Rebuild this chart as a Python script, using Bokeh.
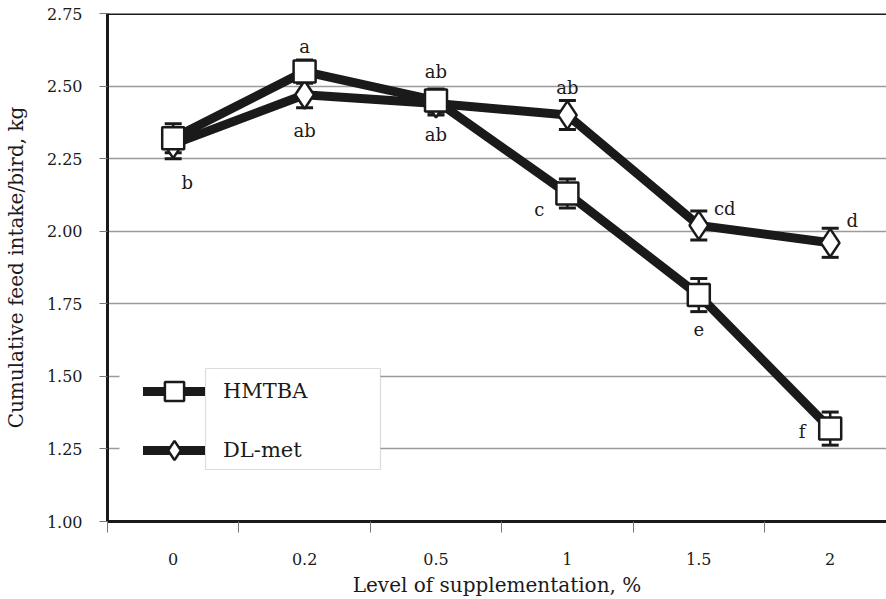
from bokeh.plotting import figure
from bokeh.models import (Range1d, FixedTicker, Span, Legend, LegendItem,
                          BoxAnnotation, ColumnDataSource, NumeralTickFormatter)
from bokeh.core.properties import value
from bokeh.embed import file_html
from bokeh.resources import INLINE

# ---------------- data ----------------
levels = ["0", "0.2", "0.5", "1", "1.5", "2"]
hmtba = [2.32, 2.55, 2.45, 2.13, 1.78, 1.32]
hmtba_err = [0.05, 0.04, 0.04, 0.05, 0.057, 0.057]
dlmet = [2.30, 2.47, 2.44, 2.40, 2.02, 1.96]
dlmet_err = [0.05, 0.045, 0.04, 0.05, 0.05, 0.05]
y_ticks = [1.00, 1.25, 1.50, 1.75, 2.00, 2.25, 2.50, 2.75]

# significance letters: (series, index, letter)
sig_series = ["dl", "h", "dl", "h", "dl", "dl", "h", "dl", "dl", "h", "h"]
sig_index = [0, 1, 1, 2, 2, 3, 3, 4, 5, 4, 5]
sig_letter = ["b", "a", "ab", "ab", "ab", "ab", "c", "cd", "d", "e", "f"]
# screen offsets (style) for each letter
sig_dx = [14, 0, 0, 0, 0, 0, -28, 26, 22, 0, -28]
sig_dy = [38, -25, 36, -29, 31, -28, 16, -17, -22, 34, 3]

FONT = "DejaVu Serif"
INK = "#1a1a1a"

W, H = 886, 599
LEFT, TOP, BOTTOM = 107, 13, 78
CAT_W = 131.4  # px per category (the reference frame runs past the right edge)

xs = list(range(len(levels)))
x_end = -0.5 + (W - LEFT) / CAT_W

p = figure(width=W, height=H, output_backend="svg", toolbar_location=None, title=None,
           x_range=Range1d(-0.5, x_end), y_range=Range1d(y_ticks[0], y_ticks[-1]),
           min_border_left=LEFT, min_border_top=TOP, min_border_bottom=BOTTOM,
           min_border_right=0, outline_line_color=None,
           background_fill_color="white", border_fill_color="white")

# axes
p.xaxis.ticker = FixedTicker(ticks=xs, minor_ticks=[i - 0.5 for i in range(len(levels) + 1)])
p.xaxis.major_label_overrides = {i: l for i, l in enumerate(levels)}
p.xaxis.major_tick_out = 0
p.xaxis.major_tick_in = 0
p.xaxis.minor_tick_out = 11
p.xaxis.minor_tick_in = 0
p.xaxis.minor_tick_line_color = "#777777"
p.xaxis.minor_tick_line_width = 1
p.xaxis.major_label_standoff = 20
p.xaxis.axis_label = "Level of supplementation, %"
p.xaxis.axis_label_standoff = 5

p.yaxis.ticker = FixedTicker(ticks=y_ticks, minor_ticks=[])
p.yaxis.formatter = NumeralTickFormatter(format="0.00")
p.yaxis.major_tick_out = 8
p.yaxis.major_tick_in = 0
p.yaxis.major_tick_line_color = "#777777"
p.yaxis.major_label_standoff = 17
p.yaxis.axis_label = "Cumulative feed intake/bird, kg"
p.yaxis.axis_label_standoff = 16

for ax in (p.xaxis[0], p.yaxis[0]):
    ax.axis_line_width = 3
    ax.axis_line_color = INK
    ax.major_label_text_font = FONT
    ax.major_label_text_font_size = "16px"
    ax.major_label_text_color = INK
    ax.axis_label_text_font = FONT
    ax.axis_label_text_font_style = "normal"
    ax.axis_label_text_font_size = "20px"
    ax.axis_label_text_color = INK

p.xgrid.grid_line_color = None
p.ygrid.ticker = FixedTicker(ticks=y_ticks)
p.ygrid.grid_line_color = "#9a9a9a"
p.ygrid.grid_line_width = 1.3

p.add_layout(Span(location=y_ticks[-1], dimension="width", line_color=INK, line_width=3))

# series
src_h = ColumnDataSource(dict(x=xs, y=hmtba, lo=[v - e for v, e in zip(hmtba, hmtba_err)],
                              hi=[v + e for v, e in zip(hmtba, hmtba_err)]))
src_d = ColumnDataSource(dict(x=xs, y=dlmet, lo=[v - e for v, e in zip(dlmet, dlmet_err)],
                              hi=[v + e for v, e in zip(dlmet, dlmet_err)]))

line_h = p.line("x", "y", source=src_h, line_color=INK, line_width=9, line_join="round", line_cap="round")
line_d = p.line("x", "y", source=src_d, line_color=INK, line_width=9, line_join="round", line_cap="round")

for src in (src_h, src_d):
    p.segment(x0="x", y0="lo", x1="x", y1="hi", source=src, line_color=INK, line_width=2.5)
    p.scatter("x", "lo", source=src, marker="dash", size=17, line_color=INK, line_width=3)
    p.scatter("x", "hi", source=src, marker="dash", size=17, line_color=INK, line_width=3)

mk_d = p.scatter("x", "y", source=src_d, marker="diamond", size=28, fill_color="white",
                 line_color=INK, line_width=2.5)
mk_h = p.scatter("x", "y", source=src_h, marker="square", size=22, fill_color="white",
                 line_color=INK, line_width=2.5)

# significance letters
sx = [sig_index[i] for i in range(len(sig_letter))]
sy = [(hmtba if sig_series[i] == "h" else dlmet)[sig_index[i]] for i in range(len(sig_letter))]
src_s = ColumnDataSource(dict(x=sx, y=sy, t=sig_letter, dx=sig_dx, dy=sig_dy))
p.text("x", "y", text="t", source=src_s, x_offset="dx", y_offset="dy",
       text_align="center", text_baseline="middle", text_font=value(FONT),
       text_font_size="18px", text_color=INK)

# legend: white backing, legend entries, and a grey frame around the labels only
p.add_layout(BoxAnnotation(left=12, right=273, bottom=37, top=164,
                           left_units="screen", right_units="screen",
                           bottom_units="screen", top_units="screen",
                           fill_color="white", fill_alpha=1, line_color=None, level="glyph"))

legend = Legend(items=[LegendItem(label="HMTBA", renderers=[line_h, mk_h]),
                       LegendItem(label="DL-met", renderers=[line_d, mk_d])],
                location=(36, 47), orientation="vertical",
                glyph_width=62, glyph_height=48, label_width=100, label_height=20,
                label_standoff=18, spacing=11, padding=0, margin=0,
                border_line_color=None, background_fill_alpha=0,
                label_text_font=FONT, label_text_font_size="21px", label_text_color=INK)
p.add_layout(legend, "center")

p.add_layout(BoxAnnotation(left=98, right=273, bottom=52, top=153,
                           left_units="screen", right_units="screen",
                           bottom_units="screen", top_units="screen",
                           fill_color=None, fill_alpha=0, line_color="#8a8a8a", line_width=1.2,
                           level="overlay"))

open("out.html", "w").write(file_html(p, INLINE))
